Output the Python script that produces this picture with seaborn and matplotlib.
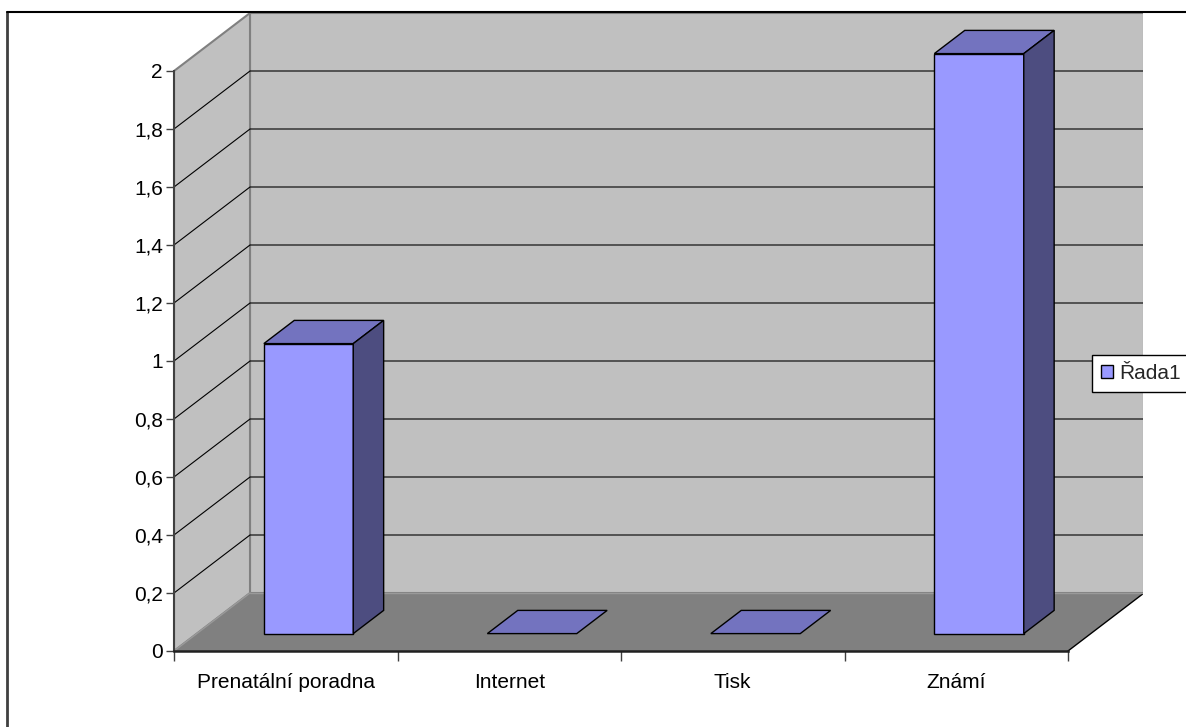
import matplotlib
matplotlib.use("Agg")
import matplotlib.pyplot as plt
from matplotlib.patches import Polygon, Patch
from matplotlib.lines import Line2D
import seaborn as sns

# Data
categories = ["Prenatální poradna", "Internet", "Tisk", "Známí"]
values = [1, 0, 0, 2]
series_name = "Řada1"
y_ticks = [0, 0.2, 0.4, 0.6, 0.8, 1.0, 1.2, 1.4, 1.6, 1.8, 2.0]
y_tick_labels = ["0", "0,2", "0,4", "0,6", "0,8", "1", "1,2", "1,4", "1,6", "1,8", "2"]

sns.set_style("white")
plt.rcParams["font.family"] = ["Liberation Sans", "DejaVu Sans"]
FS = 15

W, H = 1186, 727
fig = plt.figure(figsize=(W / 100, H / 100), dpi=100)
fig.patch.set_facecolor("white")

# Axes: front plane from x=-0.5..3.5, y=0..2; extra room for the depth offset
px_per_x = 223.5
px_per_y = 290.0
ax_left, ax_right, ax_top, ax_bottom = 174, 1143, 13, 651
ax = fig.add_axes([ax_left / W, (H - ax_bottom) / H,
                   (ax_right - ax_left) / W, (ax_bottom - ax_top) / H])
ax.set_facecolor("none")

# depth vector (data units) for the 3-D look
DX, DY = 76 / px_per_x, 58 / px_per_y
x0, x1 = -0.5, 3.5
ymax = 2.0

wall = "#C0C0C0"
floor_c = "#808080"
edge_gray = "#808080"

# back wall
ax.add_patch(Polygon([(x0 + DX, DY), (x1 + DX, DY), (x1 + DX, ymax + DY), (x0 + DX, ymax + DY)],
                     closed=True, facecolor=wall, edgecolor=edge_gray, lw=1.5, zorder=0))
# left side wall
ax.add_patch(Polygon([(x0, 0), (x0 + DX, DY), (x0 + DX, ymax + DY), (x0, ymax)],
                     closed=True, facecolor=wall, edgecolor=edge_gray, lw=1.5, zorder=0))
# floor
ax.add_patch(Polygon([(x0, 0), (x1, 0), (x1 + DX, DY), (x0 + DX, DY)],
                     closed=True, facecolor=floor_c, edgecolor="none", zorder=1))
ax.plot([x1, x1 + DX], [0, DY], color="black", lw=1, zorder=1.2)
ax.plot([x0, x0 + DX], [0, DY], color="#9a9a9a", lw=1, zorder=1.2)
ax.plot([x0 + DX, x1 + DX], [DY, DY], color="#9a9a9a", lw=1, zorder=1.2)

# gridlines across side and back walls
for v in y_ticks[1:-1]:
    ax.plot([x0, x0 + DX, x1 + DX], [v, v + DY, v + DY], color="black", lw=0.8, zorder=1.5)

# bar front faces
sns.barplot(x=categories, y=values, ax=ax, color="#9999FF", saturation=1,
            width=0.4, edgecolor="black", linewidth=1.0)

front_shift_x, front_shift_y = 0.3 * DX, 0.3 * DY
bar_dx, bar_dy = 0.4 * DX, 0.4 * DY
top_c = "#7373BF"
side_c = "#4D4D80"
for p in list(ax.patches):
    if not hasattr(p, "get_width") or p.get_facecolor()[:3] == matplotlib.colors.to_rgb(wall):
        continue
    if p.get_zorder() < 2 and p.get_edgecolor()[:3] == (0.0, 0.0, 0.0) and abs(p.get_width() - 0.4) < 1e-6:
        p.set_x(p.get_x() + front_shift_x)
        p.set_y(p.get_y() + front_shift_y)
        p.set_zorder(3)
        bx0 = p.get_x()
        bx1 = bx0 + p.get_width()
        by0 = p.get_y()
        by1 = by0 + p.get_height()
        ax.add_patch(Polygon([(bx0, by1), (bx1, by1), (bx1 + bar_dx, by1 + bar_dy), (bx0 + bar_dx, by1 + bar_dy)],
                             closed=True, facecolor=top_c, edgecolor="black", lw=1.0, zorder=3))
        if p.get_height() > 0:
            ax.add_patch(Polygon([(bx1, by0), (bx1 + bar_dx, by0 + bar_dy), (bx1 + bar_dx, by1 + bar_dy), (bx1, by1)],
                                 closed=True, facecolor=side_c, edgecolor="black", lw=1.0, zorder=3))
        else:
            p.set_visible(False)

ax.set_xlim(x0, x0 + (ax_right - ax_left) / px_per_x)
ax.set_ylim(0, (ax_bottom - ax_top) / px_per_y)

# axes lines and ticks
for s in ["top", "right"]:
    ax.spines[s].set_visible(False)
ax.spines["left"].set_bounds(0, ymax)
ax.spines["left"].set_color("#404040")
ax.spines["left"].set_linewidth(1.5)
ax.spines["bottom"].set_bounds(x0, x1)
ax.spines["bottom"].set_color("#202020")
ax.spines["bottom"].set_linewidth(1.8)
ax.spines["left"].set_zorder(4)
ax.spines["bottom"].set_zorder(4)

ax.set_yticks(y_ticks)
ax.set_yticklabels(y_tick_labels)
ax.tick_params(axis="y", which="major", left=True, length=6, width=1, color="#404040",
               pad=2, labelsize=FS, labelcolor="black")

ax.set_xticks([x0 + i for i in range(len(categories) + 1)])
ax.set_xticklabels([])
ax.set_xticks(list(range(len(categories))), minor=True)
ax.set_xticklabels(categories, minor=True)
ax.tick_params(axis="x", which="major", bottom=True, length=7, width=1, color="#404040")
ax.tick_params(axis="x", which="minor", bottom=False, length=0, pad=15.5, labelsize=FS,
               labelcolor="black")
ax.set_xlabel("")
ax.set_ylabel("")

# legend
handle = Patch(facecolor="#9999FF", edgecolor="black", linewidth=1.0, label=series_name)
leg = fig.legend(handles=[handle], loc="upper left",
                 bbox_to_anchor=(1092 / W, 1 - 355 / H), bbox_transform=fig.transFigure,
                 borderaxespad=0, fancybox=False, framealpha=1, edgecolor="black",
                 fontsize=FS, handlelength=0.58, handleheight=0.58, handletextpad=0.3,
                 borderpad=0.42)
leg.get_frame().set_linewidth(1.0)

# chart border
fig.add_artist(Line2D([7 / W, 7 / W], [0, 1 - 12 / H], color="#404040", lw=2,
                      transform=fig.transFigure))
fig.add_artist(Line2D([7 / W, 1], [1 - 12 / H, 1 - 12 / H], color="black", lw=1.5,
                      transform=fig.transFigure))

fig.savefig("out.png", dpi=100)
